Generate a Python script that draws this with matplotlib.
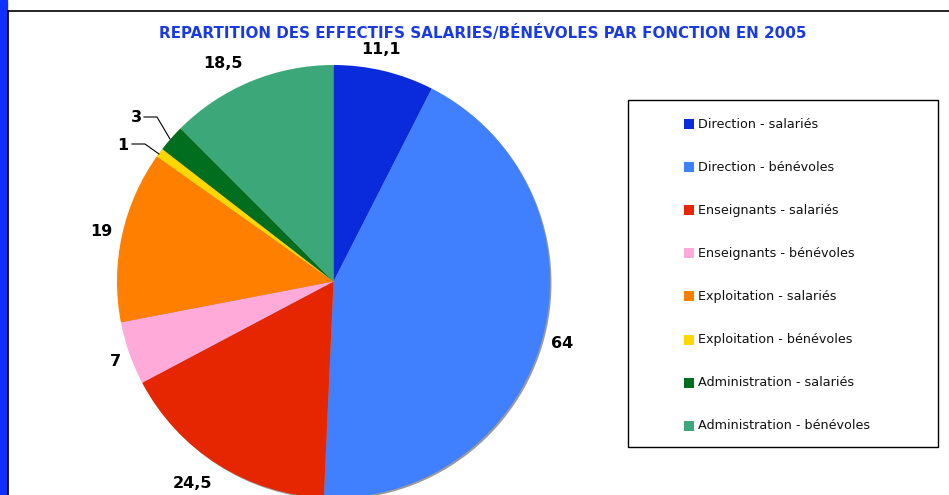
import matplotlib
matplotlib.use("Agg")
import matplotlib.pyplot as plt
from matplotlib.patches import Rectangle

title = "REPARTITION DES EFFECTIFS SALARIES/BÉNÉVOLES PAR FONCTION EN 2005"
categories = ["Direction - salariés", "Direction - bénévoles", "Enseignants - salariés",
              "Enseignants - bénévoles", "Exploitation - salariés", "Exploitation - bénévoles",
              "Administration - salariés", "Administration - bénévoles"]
values = [11.1, 64, 24.5, 7, 19, 1, 3, 18.5]
value_labels = ["11,1", "64", "24,5", "7", "19", "1", "3", "18,5"]
colors = ["#0a2bdc", "#4080ff", "#e62600", "#ffaad8", "#ff7f00", "#ffd700", "#006e1e", "#3ca87a"]

W, H = 949, 495
fig = plt.figure(figsize=(W / 100, H / 100), dpi=100)
ax = fig.add_axes([0, 0, 1, 1])
ax.set_xlim(0, W)
ax.set_ylim(0, H)
ax.set_aspect("equal")
ax.axis("off")

def Y(py):
    return H - py

# frame decorations
ax.add_patch(Rectangle((0, 0), 7.5, H, color="#1030ff", zorder=1))
ax.plot([8.5, 8.5], [0, Y(11)], color="black", lw=1.2, zorder=2)
ax.plot([8.5, W], [Y(11), Y(11)], color="black", lw=1.2, zorder=2)

cx, cy, r = 333.5, Y(281.5), 216.5
# shadow
ax.pie(values, colors=["#9a9a9a"] * len(values), startangle=90, counterclock=False,
       center=(cx + 1.5, cy - 1.5), radius=r, frame=True,
       wedgeprops=dict(linewidth=0))
ax.pie(values, colors=colors, startangle=90, counterclock=False,
       center=(cx, cy), radius=r, frame=True,
       wedgeprops=dict(linewidth=0))
ax.set_xlim(0, W)
ax.set_ylim(0, H)
ax.axis("off")

ax.text(483, Y(33), title, color="#1a3be0", fontsize=10.9, fontweight="bold",
        ha="center", va="center", family="DejaVu Sans")

label_pos = [(381, 50), (562, 343), (193, 484), (115, 362), (101, 232), (123, 145), (136, 117), (223, 63)]
for lab, (px, py) in zip(value_labels, label_pos):
    ax.text(px, Y(py), lab, fontsize=11.5, fontweight="bold", ha="center", va="center", color="black")

# leader lines
ax.plot([144, 157, 170], [Y(117), Y(117), Y(139)], color="black", lw=0.8)
ax.plot([132, 145, 159], [Y(144), Y(144), Y(154)], color="black", lw=0.8)

# legend box
ax.add_patch(Rectangle((628, Y(447)), 938 - 628, 447 - 100, fill=False, edgecolor="black", lw=1.0))
leg_y0, leg_dy = 124, 43.1
for i, (cat, col) in enumerate(zip(categories, colors)):
    py = leg_y0 + i * leg_dy
    ax.add_patch(Rectangle((684, Y(py) - 5), 10, 10, color=col, lw=0))
    ax.text(698, Y(py), cat, fontsize=9.2, ha="left", va="center", color="#111111")

fig.savefig("out.png", dpi=100)
